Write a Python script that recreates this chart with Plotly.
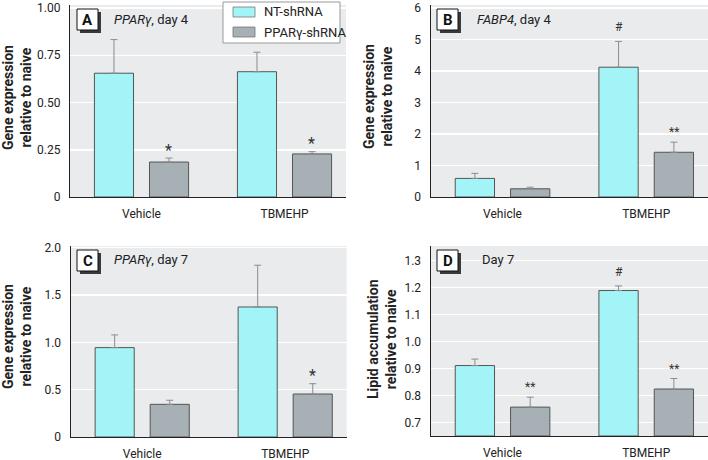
import plotly.graph_objects as go

W, H = 708, 460

categories = ["Vehicle", "TBMEHP"]
series_names = ["NT-shRNA", "PPARγ-shRNA"]

# Panel A: PPARγ, day 4
a_nt = [0.655, 0.663]
a_nt_err = [0.178, 0.103]
a_pp = [0.185, 0.228]
a_pp_err = [0.021, 0.012]

# Panel B: FABP4, day 4
b_nt = [0.59, 4.12]
b_nt_err = [0.16, 0.82]
b_pp = [0.26, 1.42]
b_pp_err = [0.05, 0.32]

# Panel C: PPARγ, day 7
c_nt = [0.944, 1.373]
c_nt_err = [0.134, 0.441]
c_pp = [0.345, 0.454]
c_pp_err = [0.043, 0.109]

# Panel D: Lipid accumulation, day 7
d_nt = [0.911, 1.189]
d_nt_err = [0.024, 0.017]
d_pp = [0.757, 0.824]
d_pp_err = [0.037, 0.039]

# significance marks: (series index, category index, text)
a_marks = [(1, 0, "*"), (1, 1, "*")]
b_marks = [(0, 1, "#"), (1, 1, "**")]
c_marks = [(1, 1, "*")]
d_marks = [(1, 0, "**"), (0, 1, "#"), (1, 1, "**")]

a_ticks = [0, 0.25, 0.5, 0.75, 1.0]
a_ticktext = ["0", "0.25", "0.50", "0.75", "1.00"]
b_ticks = [0, 1, 2, 3, 4, 5, 6]
b_ticktext = ["0", "1", "2", "3", "4", "5", "6"]
c_ticks = [0, 0.5, 1.0, 1.5, 2.0]
c_ticktext = ["0", "0.5", "1.0", "1.5", "2.0"]
d_ticks = [0.7, 0.8, 0.9, 1.0, 1.1, 1.2, 1.3]
d_ticktext = ["0.7", "0.8", "0.9", "1.0", "1.1", "1.2", "1.3"]

FONT = "Roboto, Liberation Sans Narrow, sans-serif"
CYAN = "#a2f4f7"
GRAY = "#a6b0b5"
BG = "#e9ebed"
EDGE = "#555555"
ERRC = "#8c8c8c"
TXT = "#222222"


def px(x):
    return x / W


def py(y):
    return 1 - y / H


fig = go.Figure()

panels = [
    dict(ax="", nt=a_nt, nte=a_nt_err, pp=a_pp, ppe=a_pp_err, marks=a_marks,
         xd=[px(70), px(346)], yd=[py(197), py(5)], yr=[0, 1.016],
         tv=a_ticks, tt=a_ticktext),
    dict(ax="2", nt=b_nt, nte=b_nt_err, pp=b_pp, ppe=b_pp_err, marks=b_marks,
         xd=[px(430.7), 1.0], yd=[py(197), py(5)], yr=[0, 6.095],
         tv=b_ticks, tt=b_ticktext),
    dict(ax="3", nt=c_nt, nte=c_nt_err, pp=c_pp, ppe=c_pp_err, marks=c_marks,
         xd=[px(70.7), px(346.7)], yd=[py(437), py(246)], yr=[0, 2.017],
         tv=c_ticks, tt=c_ticktext),
    dict(ax="4", nt=d_nt, nte=d_nt_err, pp=d_pp, ppe=d_pp_err, marks=d_marks,
         xd=[px(430.7), 1.0], yd=[py(436), py(246)], yr=[0.65, 1.354],
         tv=d_ticks, tt=d_ticktext),
]

annotations = []
OFF = 0.192

for p in panels:
    xa = "x" + p["ax"]
    ya = "y" + p["ax"]
    base = p["yr"][0]
    for name, vals, errs, col in [(series_names[0], p["nt"], p["nte"], CYAN),
                                  (series_names[1], p["pp"], p["ppe"], GRAY)]:
        fig.add_trace(go.Bar(
            x=categories, y=[v - base for v in vals], base=base,
            name=name, xaxis=xa, yaxis=ya, showlegend=False,
            marker=dict(color=col, line=dict(color=EDGE, width=1)),
            error_y=dict(type="data", symmetric=False, array=errs,
                         arrayminus=[0] * len(errs), color=ERRC,
                         thickness=1, width=3.5),
        ))
    lay = {}
    lay["xaxis" + p["ax"]] = dict(
        domain=p["xd"], anchor=ya, type="category", range=[-0.5, 1.43],
        showgrid=False, showline=True, linecolor="#222", linewidth=1.2,
        ticks="", tickfont=dict(family=FONT, size=12, color=TXT),
        ticklabelstandoff=5, fixedrange=True, zeroline=False, automargin=False)
    lay["yaxis" + p["ax"]] = dict(
        domain=p["yd"], anchor=xa, range=p["yr"], tickvals=p["tv"],
        ticktext=p["tt"], showgrid=True, gridcolor="white", gridwidth=1.5,
        showline=True, linecolor="#222", linewidth=1.2, ticks="",
        tickfont=dict(family=FONT, size=12, color=TXT),
        ticklabelstandoff=6, zeroline=False, automargin=False)
    fig.update_layout(**lay)
    for si, ci, txt in p["marks"]:
        vals = p["nt"] if si == 0 else p["pp"]
        errs = p["nte"] if si == 0 else p["ppe"]
        big = txt == "*"
        annotations.append(dict(
            x=ci + (-OFF if si == 0 else OFF), y=vals[ci] + errs[ci],
            xref=xa, yref=ya, text=txt, showarrow=False,
            yanchor="middle", yshift=(8 if big else (14 if txt == "#" else 10)),
            font=dict(family=FONT, size=(16 if big else 12), color="#333")))

fig.update_layout(plot_bgcolor=BG)

shapes = []

# panel label boxes
label_boxes = [("A", 77, 9), ("B", 437, 9), ("C", 77, 250), ("D", 437, 250)]
for lab, x0, y0 in label_boxes:
    shapes.append(dict(type="rect", xref="paper", yref="paper",
                       x0=px(x0 + 3), x1=px(x0 + 24), y0=py(y0 + 3), y1=py(y0 + 24),
                       fillcolor="#3a3a3a", line=dict(width=0), layer="above"))
    shapes.append(dict(type="rect", xref="paper", yref="paper",
                       x0=px(x0), x1=px(x0 + 21), y0=py(y0), y1=py(y0 + 21),
                       fillcolor="white", line=dict(color="#111", width=1), layer="above"))
    annotations.append(dict(x=px(x0 + 10.5), y=py(y0 + 10.5), xref="paper", yref="paper",
                            text="<b>%s</b>" % lab, showarrow=False,
                            xanchor="center", yanchor="middle",
                            font=dict(family=FONT, size=15, color="#111")))

# panel titles
titles = [("<i>PPARγ</i>, day 4", 112, 20), ("<i>FABP4</i>, day 4", 475, 20),
          ("<i>PPARγ</i>, day 7", 112, 259), ("Day 7", 480, 259)]
for t, x, y in titles:
    annotations.append(dict(x=px(x), y=py(y), xref="paper", yref="paper", text=t,
                            showarrow=False, xanchor="left", yanchor="middle",
                            font=dict(family=FONT, size=13, color=TXT)))

# y-axis titles
ytitles = [("Gene expression<br>relative to naive", 17, 98),
           ("Gene expression<br>relative to naive", 378, 97),
           ("Gene expression<br>relative to naive", 17, 337),
           ("Lipid accumulation<br>relative to naive", 382, 339)]
for t, x, y in ytitles:
    annotations.append(dict(x=px(x), y=py(y), xref="paper", yref="paper",
                            text="<b>%s</b>" % t, showarrow=False, textangle=-90,
                            xanchor="center", yanchor="middle",
                            font=dict(family=FONT, size=14, color=TXT)))

# legend box
shapes.append(dict(type="rect", xref="paper", yref="paper",
                   x0=px(223), x1=px(340), y0=py(2), y1=py(43),
                   fillcolor="white", line=dict(color="#999", width=1), layer="above"))
for i, (name, col) in enumerate(zip(series_names, [CYAN, GRAY])):
    yc = 12 + i * 20
    shapes.append(dict(type="rect", xref="paper", yref="paper",
                       x0=px(233), x1=px(255), y0=py(yc - 5), y1=py(yc + 5),
                       fillcolor=col, line=dict(color="#777", width=0.8), layer="above"))
    annotations.append(dict(x=px(262), y=py(yc), xref="paper", yref="paper",
                            text=name, showarrow=False, xanchor="left", yanchor="middle",
                            font=dict(family=FONT, size=13, color=TXT)))

fig.update_layout(
    width=W, height=H, margin=dict(l=0, r=0, t=0, b=0, autoexpand=False),
    paper_bgcolor="white", barmode="group", bargap=0.23, bargroupgap=0.29,
    shapes=shapes, annotations=annotations, showlegend=False,
    font=dict(family=FONT, color=TXT), hovermode=False,
)

fig.write_html("out.html", config={"displayModeBar": False, "staticPlot": True},
               post_script="document.body.style.margin='0';document.body.style.padding='0';")
